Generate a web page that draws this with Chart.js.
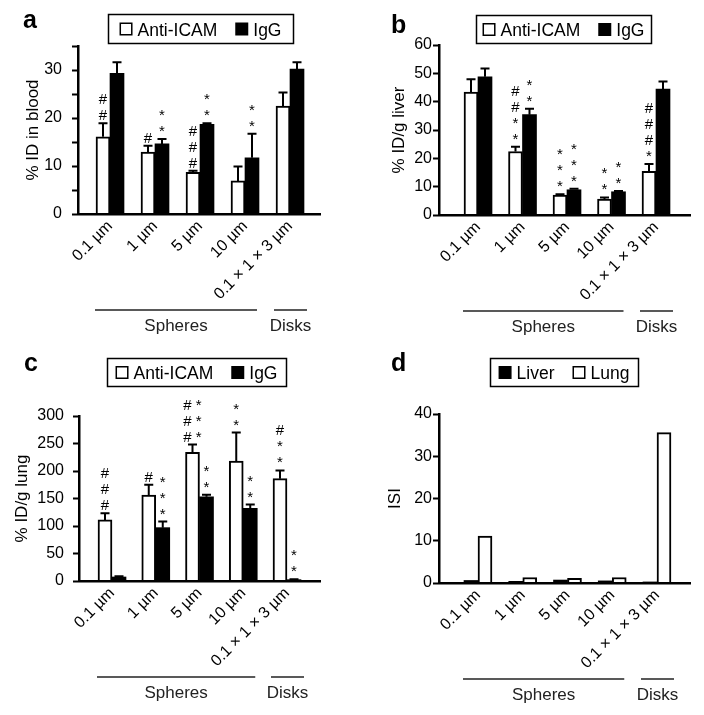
<!DOCTYPE html>
<html>
<head>
<meta charset="utf-8">
<script src="https://cdn.jsdelivr.net/npm/chart.js@4.4.1/dist/chart.umd.min.js"></script>
<style>
  body { margin: 0; background: #fff; }
  #wrap { position: relative; width: 704px; height: 715px; }
  canvas { position: absolute; }
</style>
</head>
<body>
<div id="wrap">
  <canvas id="pa" width="352" height="350" style="left:0;top:0"></canvas>
  <canvas id="pb" width="352" height="350" style="left:352px;top:0"></canvas>
  <canvas id="pc" width="352" height="365" style="left:0;top:350px"></canvas>
  <canvas id="pd" width="352" height="365" style="left:352px;top:350px"></canvas>
</div>
<script>
const FONT = '"Liberation Sans", Arial, Helvetica, sans-serif';

const sizeLabels = ["0.1 µm", "1 µm", "5 µm", "10 µm", "0.1 × 1 × 3 µm"];
const groupNames = ["Spheres", "Disks"];

// a - % ID in blood
const bloodAnti = [16.1, 12.9, 8.7, 6.9, 22.5];
const bloodAntiErr = [2.8, 1.3, 0.3, 3.0, 2.8];
const bloodIgg = [29.3, 14.6, 18.7, 11.7, 30.2];
const bloodIggErr = [2.3, 1.0, 0.2, 5.0, 1.4];
const bloodAntiSig = ["#|#", "#", "#|#|#", "", ""];
const bloodIggSig = ["", "*|*", "*|*", "*|*", ""];

// b - % ID/g liver
const liverAnti = [43.4, 22.4, 7.0, 5.6, 15.4];
const liverAntiErr = [4.5, 1.7, 0.3, 0.6, 2.6];
const liverIgg = [48.8, 35.4, 8.9, 8.2, 44.4];
const liverIggErr = [2.9, 2.1, 0.4, 0.3, 2.7];
const liverAntiSig = ["", "#|#|*|*", "*|*|*", "*|*", "#|#|#|*"];
const liverIggSig = ["", "*|*", "*|*|*", "*|*", ""];

// c - % ID/g lung
const lungAnti = [111, 156, 234, 218, 186];
const lungAntiErr = [12, 19, 14, 52, 15];
const lungIgg = [7.3, 97, 153, 132, 2.4];
const lungIggErr = [1.2, 11, 4, 7, 0.6];
const lungAntiSig = ["#|#|#", "#", "# *|# *|# *", "*|*", "#|*|*"];
const lungIggSig = ["", "*|*|*", "*|*", "*|*", "*|*"];

// d - ISI
const isiLiver = [0.6, 0.4, 0.7, 0.5, 0.25];
const isiLung = [11.1, 1.3, 1.1, 1.3, 35.6];

// draws error bars, significance marks, legend box, panel letter and the Spheres/Disks brackets
const extras = {
  id: 'extras',
  afterDatasetsDraw(chart) {
    const ctx = chart.ctx, ys = chart.scales.y;
    ctx.save();
    ctx.strokeStyle = '#000';
    ctx.fillStyle = '#000';
    ctx.lineWidth = 2;
    ctx.font = '15px ' + FONT;
    ctx.textAlign = 'center';
    ctx.textBaseline = 'alphabetic';
    chart.data.datasets.forEach((ds, d) => {
      if (!ds.errors) return;
      chart.getDatasetMeta(d).data.forEach((bar, i) => {
        const top = ys.getPixelForValue(ds.data[i].y + ds.errors[i]);
        ctx.beginPath();
        ctx.moveTo(bar.x, bar.y);
        ctx.lineTo(bar.x, top);
        ctx.moveTo(bar.x - 4.5, top);
        ctx.lineTo(bar.x + 4.5, top);
        ctx.stroke();
        const rows = (ds.marks[i] || '').split('|').filter(Boolean).reverse();
        rows.forEach((r, k) => ctx.fillText(r, bar.x, top - 3 - k * 16));
      });
    });
    ctx.restore();
  },
  afterDraw(chart, args, o) {
    const ctx = chart.ctx;
    ctx.save();
    ctx.fillStyle = '#000';
    ctx.strokeStyle = '#000';

    // panel letter
    ctx.font = 'bold 25px ' + FONT;
    ctx.textAlign = 'left';
    ctx.textBaseline = 'alphabetic';
    ctx.fillText(o.letter, o.letterX, o.letterY);

    // legend
    const L = o.legend;
    ctx.lineWidth = 1.5;
    ctx.strokeRect(L.x + 0.5, L.y + 0.5, L.w, L.h);
    ctx.font = '17.5px ' + FONT;
    const items = chart.data.datasets;
    const widths = items.map(ds => 13 + 5 + ctx.measureText(ds.label).width);
    const total = widths.reduce((a, b) => a + b, 0) + 18 * (items.length - 1);
    let cx = L.x + (L.w - total) / 2;
    const mid = L.y + L.h / 2;
    items.forEach((ds, k) => {
      if (ds.backgroundColor === '#000') {
        ctx.fillRect(cx, mid - 6, 13, 13);
      } else {
        ctx.strokeRect(cx + 0.75, mid - 5.25, 11.5, 11.5);
      }
      ctx.fillText(ds.label, cx + 18, mid + 7);
      cx += widths[k] + 18;
    });

    // Spheres / Disks brackets
    const xs = chart.scales.x;
    const lineY = chart.chartArea.bottom + 96;
    const spans = [
      [xs.getPixelForValue(0) - 15, xs.getPixelForValue(3) + 12],
      [xs.getPixelForValue(4) - 16, xs.getPixelForValue(4) + 17]
    ];
    ctx.strokeStyle = '#222';
    ctx.fillStyle = '#222';
    ctx.lineWidth = 1.5;
    ctx.font = '17px ' + FONT;
    ctx.textAlign = 'center';
    spans.forEach((s, k) => {
      ctx.beginPath();
      ctx.moveTo(s[0], lineY);
      ctx.lineTo(s[1], lineY);
      ctx.stroke();
      ctx.fillText(groupNames[k], (s[0] + s[1]) / 2, lineY + 21);
    });
    ctx.restore();
  }
};

function panel(id, p) {
  const canvas = document.getElementById(id);
  const W = canvas.width, H = canvas.height;
  const g = p.geo;
  return new Chart(canvas, {
    type: 'bar',
    data: {
      datasets: p.series.map(s => ({
        label: s.label,
        data: s.values.map((v, i) => ({ x: i, y: v })),
        errors: s.errors,
        marks: s.marks,
        backgroundColor: s.fill,
        borderColor: '#000',
        borderWidth: s.fill === '#fff' ? 2 : 0,
        barThickness: 14
      }))
    },
    options: {
      responsive: false,
      animation: false,
      events: [],
      layout: { padding: { left: 0, top: g.top, right: W - g.right, bottom: 0 } },
      plugins: {
        legend: { display: false },
        tooltip: { enabled: false },
        extras: { letter: p.letter, letterX: g.letterX, letterY: g.letterY, legend: g.legend }
      },
      scales: {
        x: {
          type: 'linear',
          offset: false,
          min: (g.left - g.c0) / g.sp,
          max: (g.right - g.c0) / g.sp,
          afterBuildTicks: s => { s.ticks = sizeLabels.map((t, i) => ({ value: i })); },
          afterFit: s => { s.height = H - g.bottom; },
          grid: { display: false, drawTicks: false, offset: false },
          border: { color: '#000', width: 2.5, z: 1 },
          ticks: {
            autoSkip: false, minRotation: 45, maxRotation: 45, padding: 3,
            color: '#000', font: { family: FONT, size: 16 },
            callback: v => sizeLabels[v]
          }
        },
        y: {
          min: 0,
          max: p.max,
          afterFit: s => { s.width = g.left; },
          ticks: {
            stepSize: p.step, padding: g.tickPad, color: '#000',
            font: { family: FONT, size: 16 },
            callback: v => (v % p.labelStep === 0 ? v : '')
          },
          grid: { drawOnChartArea: false, tickLength: 6, tickWidth: 2, color: '#000' },
          border: { color: '#000', width: 2.5, z: 1 },
          title: {
            display: true, text: p.title, color: '#000',
            font: { family: FONT, size: 17 },
            padding: { top: g.titlePad, bottom: 0 }
          }
        }
      }
    },
    plugins: [extras]
  });
}

panel('pa', {
  letter: 'a', title: '% ID in blood', max: 35, step: 2.5, labelStep: 10,
  series: [
    { label: 'Anti-ICAM', values: bloodAnti, errors: bloodAntiErr, marks: bloodAntiSig, fill: '#fff' },
    { label: 'IgG', values: bloodIgg, errors: bloodIggErr, marks: bloodIggSig, fill: '#000' }
  ],
  geo: { left: 78, right: 320, top: 46, bottom: 214, c0: 110, sp: 45, titlePad: 23, tickPad: 10,
         letterX: 23, letterY: 28, legend: { x: 108, y: 14, w: 185, h: 29 } }
});

panel('pb', {
  letter: 'b', title: '% ID/g liver', max: 60, step: 5, labelStep: 10,
  series: [
    { label: 'Anti-ICAM', values: liverAnti, errors: liverAntiErr, marks: liverAntiSig, fill: '#fff' },
    { label: 'IgG', values: liverIgg, errors: liverIggErr, marks: liverIggSig, fill: '#000' }
  ],
  geo: { left: 87, right: 338, top: 45, bottom: 215, c0: 126, sp: 44.5, titlePad: 37, tickPad: 1,
         letterX: 39, letterY: 33, legend: { x: 124, y: 15, w: 175, h: 28 } }
});

panel('pc', {
  letter: 'c', title: '% ID/g lung', max: 300, step: 25, labelStep: 50,
  series: [
    { label: 'Anti-ICAM', values: lungAnti, errors: lungAntiErr, marks: lungAntiSig, fill: '#fff' },
    { label: 'IgG', values: lungIgg, errors: lungIggErr, marks: lungIggSig, fill: '#000' }
  ],
  geo: { left: 79, right: 320, top: 66, bottom: 231, c0: 112, sp: 43.75, titlePad: 12, tickPad: 9,
         letterX: 24, letterY: 21, legend: { x: 107, y: 8, w: 179, h: 28 } }
});

panel('pd', {
  letter: 'd', title: 'ISI', max: 40, step: 5, labelStep: 10,
  series: [
    { label: 'Liver', values: isiLiver, fill: '#000' },
    { label: 'Lung', values: isiLung, fill: '#fff' }
  ],
  geo: { left: 87, right: 338, top: 64, bottom: 233, c0: 126, sp: 44.75, titlePad: 33, tickPad: 1,
         letterX: 39, letterY: 21, legend: { x: 138, y: 8, w: 148, h: 28 } }
});
</script>
</body>
</html>
